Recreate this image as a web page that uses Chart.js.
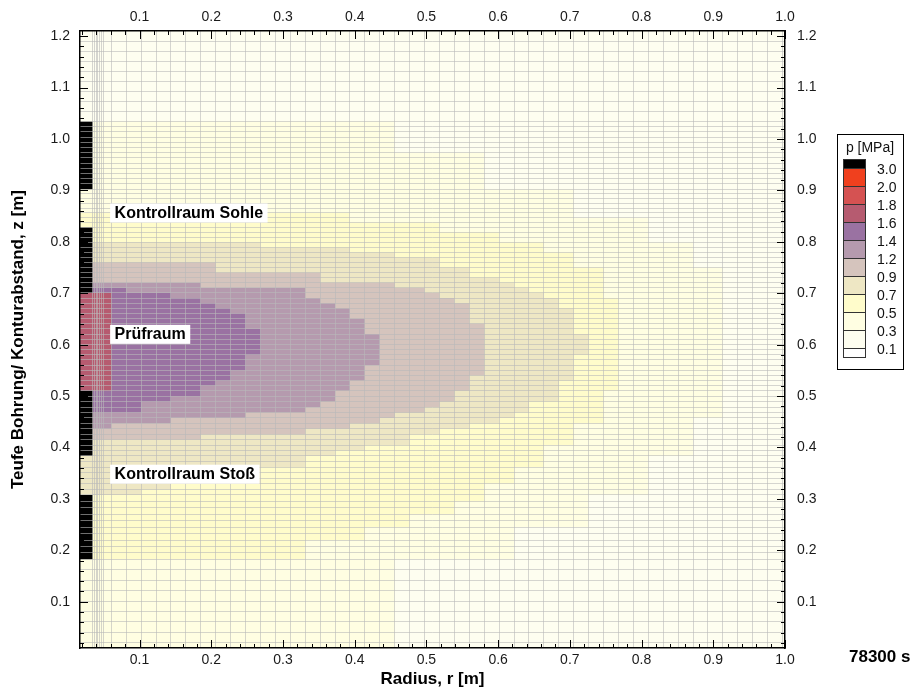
<!DOCTYPE html>
<html><head><meta charset="utf-8">
<script src="https://cdn.jsdelivr.net/npm/chart.js@4.4.1/dist/chart.umd.min.js"></script>
<style>html,body{margin:0;padding:0;background:#fff}canvas{display:block}</style>
</head><body>
<canvas id="c" width="915" height="693"></canvas>
<script>
// ---------- axis ranges and ticks ----------
const xMin = 0.017, xMax = 1.0, yMin = 0.01, yMax = 1.21;
const xTickValues = [0.02,0.04,0.06,0.08,0.10,0.12,0.14,0.16,0.18,0.20,0.22,0.24,0.26,0.28,0.30,0.32,0.34,0.36,0.38,0.40,0.42,0.44,0.46,0.48,0.50,0.52,0.54,0.56,0.58,0.60,0.62,0.64,0.66,0.68,0.70,0.72,0.74,0.76,0.78,0.80,0.82,0.84,0.86,0.88,0.90,0.92,0.94,0.96,0.98,1.00];
const yTickValues = [0.02,0.04,0.06,0.08,0.10,0.12,0.14,0.16,0.18,0.20,0.22,0.24,0.26,0.28,0.30,0.32,0.34,0.36,0.38,0.40,0.42,0.44,0.46,0.48,0.50,0.52,0.54,0.56,0.58,0.60,0.62,0.64,0.66,0.68,0.70,0.72,0.74,0.76,0.78,0.80,0.82,0.84,0.86,0.88,0.90,0.92,0.94,0.96,0.98,1.00,1.02,1.04,1.06,1.08,1.10,1.12,1.14,1.16,1.18,1.20];

// ---------- mesh (cell edges) ----------
const colEdges = [0.0349,0.0373,0.0396,0.0419,0.0442,0.0474,0.0502,0.0606,0.0814,0.1022,0.1230,0.1438,0.1646,0.1854,0.2062,0.2270,0.2478,0.2686,0.2894,0.3102,0.3310,0.3518,0.3726,0.3934,0.4142,0.4350,0.4558,0.4766,0.4974,0.5182,0.5390,0.5598,0.5806,0.6014,0.6222,0.6430,0.6638,0.6846,0.7054,0.7262,0.7470,0.7678,0.7886,0.8094,0.8302,0.8510,0.8718,0.8926,0.9134,0.9342,0.9550,0.9758,0.9966];
const rowEdges = [0.021,0.041,0.061,0.081,0.101,0.121,0.141,0.162,0.1825,0.1950,0.2075,0.2200,0.2326,0.2451,0.2576,0.2701,0.2826,0.2951,0.3076,0.3184,0.3293,0.3401,0.3510,0.3618,0.3727,0.3835,0.3941,0.4046,0.4152,0.4258,0.4364,0.4469,0.4575,0.4681,0.4787,0.4892,0.4998,0.5104,0.5204,0.5304,0.5404,0.5504,0.5604,0.5705,0.5805,0.5905,0.6005,0.6105,0.6205,0.6305,0.6405,0.6505,0.6605,0.6706,0.6806,0.6906,0.7006,0.7104,0.7203,0.7301,0.7399,0.7498,0.7596,0.7694,0.7793,0.7891,0.7989,0.8088,0.8186,0.8284,0.8376,0.8469,0.8561,0.8654,0.8746,0.8838,0.8931,0.9023,0.9125,0.9226,0.9328,0.9429,0.9531,0.9632,0.9734,0.9835,0.9937,1.0038,1.0140,1.0241,1.0342,1.0537,1.0733,1.0928,1.1123,1.1319,1.1514,1.1709,1.1905];

// ---------- pressure field: for each level, row bands (z edges) and the radius reached ----------
const p01Z = [0.010,1.210];
const p01R = [1.000];
const p03Z = [0.010,0.1825,0.2451,0.3076,0.3835,0.4575,0.7498,0.7989,0.8469,0.9023,0.9734,1.0342];
const p03R = [0.4558,0.6222,0.7262,0.8094,0.8718,0.9134,0.8718,0.8094,0.7054,0.5806,0.4558];
const p05Z = [0.1825,0.2200,0.2451,0.2701,0.2951,0.3293,0.3618,0.4046,0.4469,0.5104,0.6906,0.7498,0.7793,0.7989,0.8186,0.8376,0.8561];
const p05R = [0.3310,0.4142,0.4766,0.5390,0.5806,0.6222,0.6638,0.7054,0.7470,0.7678,0.7470,0.7054,0.6638,0.6014,0.5182,0.3934];
const p07Z = [0.3076,0.3184,0.3293,0.3618,0.3835,0.3941,0.4046,0.4258,0.4364,0.4469,0.4575,0.4681,0.4892,0.5304,0.5805,0.6205,0.6706,0.6906,0.7006,0.7104,0.7203,0.7301,0.7498,0.7596,0.7694,0.7793,0.7891,0.7989];
const p07R = [0.1022,0.1438,0.2686,0.3310,0.3726,0.4142,0.4766,0.5182,0.5598,0.6014,0.6222,0.6430,0.6846,0.7054,0.7262,0.7054,0.6846,0.6638,0.6430,0.6222,0.6014,0.5598,0.5182,0.5182,0.4558,0.3934,0.2686];
const p09Z = [0.4152,0.4258,0.4364,0.4469,0.4575,0.4681,0.4787,0.4892,0.5104,0.5404,0.6405,0.6806,0.6906,0.7006,0.7104,0.7203,0.7399,0.7596];
const p09R = [0.1854,0.3310,0.3934,0.4350,0.4558,0.4974,0.5182,0.5390,0.5598,0.5806,0.5598,0.5390,0.5182,0.4974,0.4558,0.3518,0.2062];
const p12Z = [0.4364,0.4469,0.4575,0.4681,0.4787,0.4892,0.5104,0.5304,0.5604,0.6205,0.6505,0.6706,0.6806,0.6906,0.7104,0.7203];
const p12R = [0.0606,0.1438,0.2478,0.3310,0.3518,0.3726,0.3934,0.4142,0.4350,0.4142,0.3934,0.3726,0.3518,0.3310,0.1854];
const p14Z = [0.4681,0.4892,0.4998,0.5204,0.5304,0.5504,0.5805,0.6305,0.6605,0.6706,0.6806,0.6906,0.7006,0.7104];
const p14R = [0.1022,0.1438,0.1854,0.2062,0.2270,0.2478,0.2686,0.2478,0.2270,0.2062,0.1854,0.1438,0.0814];
const p16Z = [0.5104,0.7006];
const p16R = [0.0606];
// packer / borehole wall cells (p > 3.0)
const packerZ0 = [0.1825,0.3835,0.7006,0.9023];
const packerZ1 = [0.3076,0.5104,0.8284,1.0342];
const packerR = [0.0349,0.0349,0.0349,0.0349];

// ---------- legend ----------
const legendLabels = ['3.0','2.0','1.8','1.6','1.4','1.2','0.9','0.7','0.5','0.3','0.1'];
const levelColors = {
  c30:'#000000', c20:'#f0401e', c18:'#d55252', c16:'#b65b70', c14:'#9a72a2', c12:'#b59aae',
  c09:'#d5c4bd', c07:'#eee7c4', c05:'#fffccb', c03:'#fffee2', c01:'#fefef0', c00:'#ffffff'
};
const legendColors = ['c30','c20','c18','c16','c14','c12','c09','c07','c05','c03','c01','c00'];

// ---------- annotations ----------
const annoText = ['Kontrollraum Sohle','Prüfraum','Kontrollraum Stoß'];
const annoR = [0.059,0.059,0.059];
const annoZ = [0.856,0.620,0.348];
const timeLabel = '78300 s';

// ---------- build datasets ----------
function region(z, r) {
  const pts = [{x: xMin, y: z[0]}];
  for (let i = 0; i < r.length; i++) pts.push({x: r[i], y: z[i]});
  pts.push({x: r[r.length - 1], y: z[z.length - 1]});
  pts.push({x: xMin, y: z[z.length - 1]});
  return pts;
}
function ds(label, pts, color) {
  return {label, data: pts, fill: 'shape', stepped: 'after', backgroundColor: color,
    borderColor: 'rgba(0,0,0,0)', borderWidth: 0, pointRadius: 0, pointHoverRadius: 0, tension: 0};
}
const datasets = [];
for (let i = 0; i < packerZ0.length; i++) {
  datasets.push(ds('p > 3.0', [{x:xMin,y:packerZ0[i]},{x:packerR[i],y:packerZ0[i]},{x:packerR[i],y:packerZ1[i]},{x:xMin,y:packerZ1[i]}], levelColors.c30));
}
datasets.push(ds('1.6-1.8', region(p16Z, p16R), levelColors.c16));
datasets.push(ds('1.4-1.6', region(p14Z, p14R), levelColors.c14));
datasets.push(ds('1.2-1.4', region(p12Z, p12R), levelColors.c12));
datasets.push(ds('0.9-1.2', region(p09Z, p09R), levelColors.c09));
datasets.push(ds('0.7-0.9', region(p07Z, p07R), levelColors.c07));
datasets.push(ds('0.5-0.7', region(p05Z, p05R), levelColors.c05));
datasets.push(ds('0.3-0.5', region(p03Z, p03R), levelColors.c03));
datasets.push(ds('0.1-0.3', region(p01Z, p01R), levelColors.c01));

const FONT = 'Arial, "Liberation Sans", sans-serif';
const isMajor = v => Math.abs(v * 10 - Math.round(v * 10)) < 1e-6;
const tickLabel = v => isMajor(v) ? v.toFixed(1) : '';

function axis(pos, isX, size, pad, title) {
  const o = {
    type: 'linear', position: pos, bounds: 'data',
    min: isX ? xMin : yMin, max: isX ? xMax : yMax,
    afterBuildTicks: s => { s.ticks = (isX ? xTickValues : yTickValues).map(v => ({value: v})); },
    afterFit: s => { if (isX) s.height = size; else s.width = size; },
    ticks: {callback: tickLabel, autoSkip: false, maxRotation: 0, minRotation: 0, padding: pad,
      color: '#1a1a1a', font: {family: FONT, size: 14}},
    grid: {display: false, drawTicks: false},
    border: {display: true, color: '#000', width: 1.5, z: 2}
  };
  if (title) o.title = title;
  return o;
}
function helper(pos, isX, edges) {
  return {
    type: 'linear', position: pos, bounds: 'data',
    min: isX ? xMin : yMin, max: isX ? xMax : yMax,
    afterBuildTicks: s => { s.ticks = edges.map(v => ({value: v})); },
    afterFit: s => { if (isX) s.height = 0; else s.width = 0; },
    ticks: {display: false},
    grid: {display: true, drawOnChartArea: true, drawTicks: false, color: 'rgba(185,185,185,0.6)', lineWidth: 1, z: 1},
    border: {display: false}
  };
}

const inwardTicks = {
  id: 'inwardTicks',
  afterDraw(chart) {
    const {ctx, chartArea: a} = chart;
    ctx.save();
    ctx.strokeStyle = '#000';
    ctx.lineWidth = 1;
    const sx = chart.scales.x, sy = chart.scales.y;
    xTickValues.forEach(v => {
      const px = Math.round(sx.getPixelForValue(v)) + 0.5;
      const len = isMajor(v) ? 8 : 4;
      ctx.beginPath();
      ctx.moveTo(px, a.bottom); ctx.lineTo(px, a.bottom - len);
      ctx.moveTo(px, a.top); ctx.lineTo(px, a.top + len);
      ctx.stroke();
    });
    yTickValues.forEach(v => {
      const py = Math.round(sy.getPixelForValue(v)) + 0.5;
      const len = isMajor(v) ? 8 : 4;
      ctx.beginPath();
      ctx.moveTo(a.left, py); ctx.lineTo(a.left + len, py);
      ctx.moveTo(a.right, py); ctx.lineTo(a.right - len, py);
      ctx.stroke();
    });
    ctx.restore();
  }
};

const annotations = {
  id: 'annotations',
  afterDraw(chart) {
    const {ctx} = chart;
    const sx = chart.scales.x, sy = chart.scales.y;
    ctx.save();
    ctx.font = 'bold 16px ' + FONT;
    ctx.textBaseline = 'middle';
    annoText.forEach((t, i) => {
      const x0 = sx.getPixelForValue(annoR[i]);
      const yc = sy.getPixelForValue(annoZ[i]);
      const w = ctx.measureText(t).width + 9;
      ctx.fillStyle = '#fff';
      ctx.fillRect(x0, yc - 9.5, w, 19);
      ctx.fillStyle = '#000';
      ctx.fillText(t, x0 + 4.5, yc + 0.5);
    });
    // time stamp
    ctx.font = 'bold 17px ' + FONT;
    ctx.fillText(timeLabel, 849, 657);
    // colour legend
    const bx = 837.5, by = 134.5, bw = 66, bh = 235;
    ctx.fillStyle = '#fff';
    ctx.fillRect(bx, by, bw, bh);
    ctx.strokeStyle = '#000';
    ctx.lineWidth = 1;
    ctx.strokeRect(bx, by, bw, bh);
    ctx.font = '14px ' + FONT;
    ctx.fillStyle = '#111';
    ctx.textAlign = 'center';
    ctx.fillText('p [MPa]', 870, 148);
    let y = 159;
    const sw0 = 843, sww = 23;
    legendColors.forEach((k, i) => {
      const h = (i === 0 || i === legendColors.length - 1) ? 9 : 18;
      ctx.fillStyle = levelColors[k];
      ctx.fillRect(sw0, y, sww, h);
      ctx.strokeStyle = '#333';
      ctx.strokeRect(sw0 + 0.5, Math.round(y) + 0.5, sww - 1, h);
      y += h;
    });
    ctx.textAlign = 'left';
    ctx.fillStyle = '#111';
    let yb = 168;
    legendLabels.forEach((t, i) => {
      ctx.fillText(t, 877, yb + 2.5);
      yb += 18;
    });
    ctx.restore();
  }
};

new Chart(document.getElementById('c'), {
  type: 'line',
  data: {datasets},
  options: {
    responsive: false,
    animation: false,
    events: [],
    layout: {padding: 0},
    plugins: {legend: {display: false}, tooltip: {enabled: false}},
    scales: {
      x: axis('bottom', true, 45, 4, {display: true, text: 'Radius, r [m]', color: '#000',
        font: {family: FONT, size: 17, weight: 'bold'}, padding: {top: 0, bottom: 3}}),
      x2: axis('top', true, 31, 5),
      y: axis('left', false, 80, 10, {display: true, text: 'Teufe Bohrung/ Konturabstand, z [m]', color: '#000',
        font: {family: FONT, size: 17, weight: 'bold'}, padding: {top: 8, bottom: 0}}),
      y2: axis('right', false, 130, 12),
      xg: helper('bottom', true, colEdges),
      yg: helper('left', false, rowEdges)
    }
  },
  plugins: [inwardTicks, annotations]
});
</script>
</body></html>
